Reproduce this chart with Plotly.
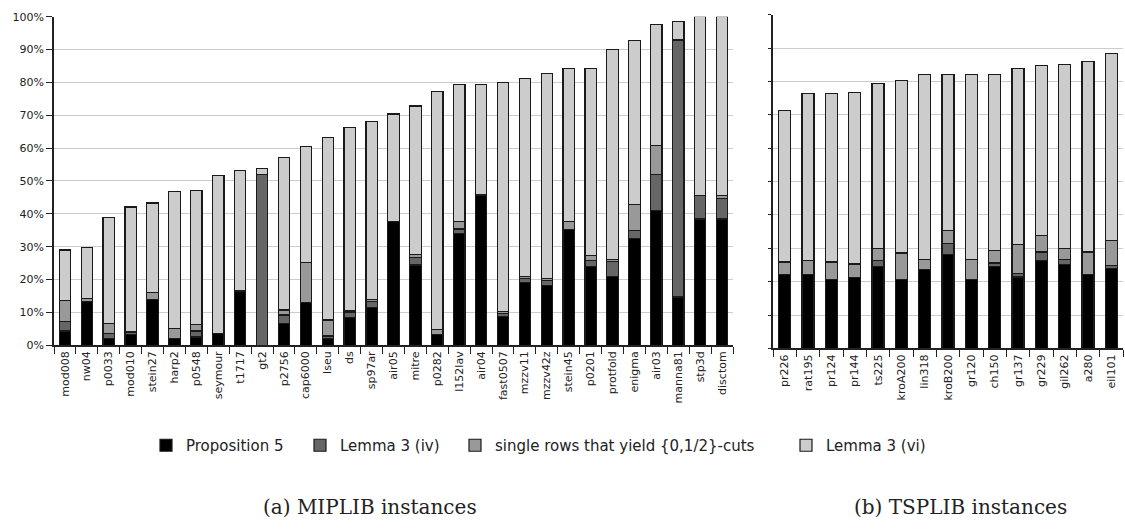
import plotly.graph_objects as go

# ---------------- data ----------------
miplib_names = ["mod008", "nw04", "p0033", "mod010", "stein27", "harp2", "p0548", "seymour",
                "t1717", "gt2", "p2756", "cap6000", "lseu", "ds", "sp97ar", "air05", "mitre",
                "p0282", "l152lav", "air04", "fast0507", "mzzv11", "mzzv42z", "stein45", "p0201",
                "protfold", "enigma", "air03", "manna81", "stp3d", "disctom"]
miplib_prop5 = [4.3, 13.2, 2.1, 3.3, 13.9, 2.1, 2.5, 3.5, 16.5, 0.0, 6.6, 12.9, 2.1, 8.5, 11.6,
                37.6, 24.4, 3.3, 34.0, 45.7, 8.7, 19.0, 18.1, 35.3, 23.9, 20.8, 32.4, 41.1, 14.7,
                38.4, 38.4]
miplib_lem3iv = [2.9, 0.0, 1.4, 0.7, 0.0, 0.0, 1.8, 0.0, 0.0, 52.0, 2.6, 0.0, 0.7, 1.4, 1.8,
                 0.0, 2.4, 0.0, 1.4, 0.0, 1.0, 1.3, 1.7, 0.0, 1.9, 4.7, 2.5, 10.9, 78.0,
                 7.2, 6.3]
miplib_rows = [6.5, 1.1, 3.0, 0.0, 2.2, 2.9, 1.9, 0.0, 0.0, 0.0, 1.5, 12.3, 4.9, 0.5, 0.5,
               0.0, 0.7, 1.5, 2.2, 0.0, 0.5, 0.5, 0.5, 2.3, 1.5, 0.6, 8.0, 8.9, 0.3,
               0.0, 0.8]
miplib_lem3vi = [15.3, 15.5, 32.4, 38.1, 27.2, 41.7, 40.9, 48.2, 36.7, 1.7, 46.4, 35.3, 55.5,
                 55.8, 54.3, 32.8, 45.3, 72.5, 41.7, 33.6, 69.7, 60.3, 62.4, 46.7, 57.0, 63.9,
                 49.8, 36.7, 5.5, 54.4, 54.5]

tsplib_names = ["pr226", "rat195", "pr124", "pr144", "ts225", "kroA200", "lin318", "kroB200",
                "gr120", "ch150", "gr137", "gr229", "gil262", "a280", "eil101"]
tsplib_prop5 = [22.2, 22.2, 20.7, 21.2, 24.5, 20.7, 23.7, 28.2, 20.7, 24.5, 21.4, 26.4, 25.1, 22.2, 23.9]
tsplib_lem3iv = [0.0, 0.0, 0.0, 0.0, 1.8, 0.0, 0.0, 3.3, 0.0, 1.1, 1.0, 2.5, 1.5, 0.0, 1.0]
tsplib_rows = [3.7, 4.1, 5.2, 4.1, 3.7, 7.9, 2.9, 3.9, 5.9, 3.7, 8.8, 4.9, 3.4, 6.7, 7.4]
tsplib_lem3vi = [45.5, 50.0, 50.4, 51.5, 49.4, 51.6, 55.4, 46.6, 55.4, 52.7, 52.8, 50.9, 55.1, 57.0, 56.2]

series_names = ["Proposition 5", "Lemma 3 (iv)", "single rows that yield {0,1/2}-cuts", "Lemma 3 (vi)"]
series_colors = ["#000000", "#666666", "#999999", "#cccccc"]

# ---------------- figure ----------------
fig = go.Figure()
mip_series = [miplib_prop5, miplib_lem3iv, miplib_rows, miplib_lem3vi]
tsp_series = [tsplib_prop5, tsplib_lem3iv, tsplib_rows, tsplib_lem3vi]
legend_ids = ["legend", "legend2", "legend3", "legend4"]

for i in range(4):
    fig.add_trace(go.Bar(
        x=miplib_names, y=mip_series[i], name=series_names[i],
        marker=dict(color=series_colors[i], line=dict(color="#1a1a1a", width=1.2)),
        xaxis="x", yaxis="y", legend=legend_ids[i], showlegend=True,
    ))
    fig.add_trace(go.Bar(
        x=tsplib_names, y=tsp_series[i], name=series_names[i],
        marker=dict(color=series_colors[i], line=dict(color="#1a1a1a", width=1.2)),
        xaxis="x2", yaxis="y2", showlegend=False,
    ))

W, H = 1125, 532
def px_x(p):
    return p / W
def px_y(p):
    return (H - p) / H

tickfont = dict(family="DejaVu Sans", size=11, color="#222222")
legfont = dict(family="DejaVu Sans", size=15, color="#222222")

fig.update_layout(
    width=W, height=H,
    margin=dict(l=0, r=0, t=0, b=0),
    paper_bgcolor="white", plot_bgcolor="white",
    barmode="stack",
    bargap=0.48,
    xaxis=dict(domain=[px_x(54), px_x(733)], anchor="y", tickangle=-90, tickfont=tickfont,
               ticks="outside", tickson="boundaries", ticklen=7, tickwidth=1.3, tickcolor="#222",
               showline=True, linecolor="#222", linewidth=1.5, showgrid=False),
    yaxis=dict(domain=[px_y(347.7), px_y(11)], anchor="x", range=[0, 100], dtick=10,
               ticksuffix="%", tickfont=tickfont, ticks="outside", ticklen=6, tickwidth=1.3,
               tickcolor="#222", showline=True, linecolor="#222", linewidth=1.5,
               showgrid=True, gridcolor="#cccccc", gridwidth=1.3, zeroline=False),
    xaxis2=dict(domain=[px_x(773), px_x(1123)], anchor="y2", tickangle=-90, tickfont=tickfont,
                ticks="outside", tickson="boundaries", ticklen=7, tickwidth=1.3, tickcolor="#222",
                showline=True, linecolor="#222", linewidth=1.5, showgrid=False),
    yaxis2=dict(domain=[px_y(351), px_y(9)], anchor="x2", range=[0, 100], dtick=10,
                showticklabels=False, ticks="outside", ticklen=3, tickwidth=1.0, tickcolor="#222",
                showline=True, linecolor="#222", linewidth=1.5,
                showgrid=True, gridcolor="#cccccc", gridwidth=1.3, zeroline=False),
    showlegend=True,
)

legend_x_px = [146, 300, 455, 786]
for lid, lx in zip(legend_ids, legend_x_px):
    fig.update_layout({lid: dict(x=px_x(lx), xanchor="left", y=px_y(450.5), yanchor="middle",
                                 orientation="h", font=legfont, bgcolor="rgba(0,0,0,0)",
                                 borderwidth=0)})

capfont = dict(family="DejaVu Serif", size=20, color="#222222")
fig.add_annotation(text="(a) MIPLIB instances", x=px_x(370), y=px_y(514), xref="paper", yref="paper",
                   showarrow=False, font=capfont, xanchor="center", yanchor="middle")
fig.add_annotation(text="(b) TSPLIB instances", x=px_x(960), y=px_y(514), xref="paper", yref="paper",
                   showarrow=False, font=capfont, xanchor="center", yanchor="middle")

fig.write_html("out.html", config={"displayModeBar": False},
               post_script="document.body.style.margin='0';document.body.style.overflow='hidden';")
